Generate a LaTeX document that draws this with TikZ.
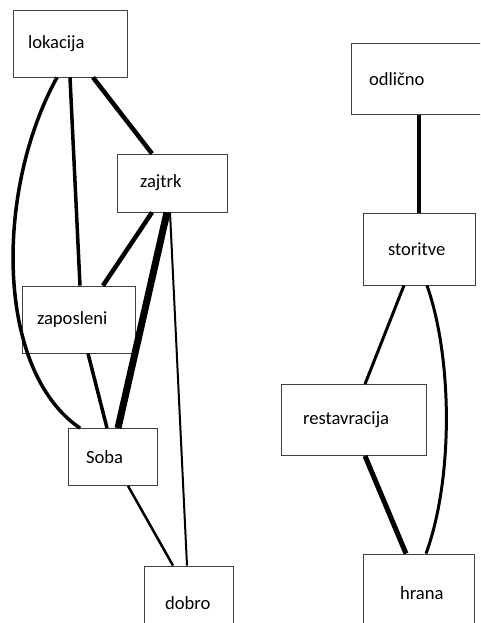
\documentclass[tikz,border=0pt]{standalone}
\usepackage{fontspec}
\setmainfont{Carlito}
\usepackage{tikz}
\usetikzlibrary{positioning,calc}

\begin{document}
\begin{tikzpicture}[
	x = 1pt, y = -1pt,
	box/.style = {draw = black!75, line width = 0.8pt, align = left, inner ysep = 0pt,
		font = \fontsize{18.6}{21}\selectfont},
	link/.style = {draw = black, line width = #1},
	]

	\clip (0,0) rectangle (480,623);

	% left group
	\node[box, minimum width=114pt, minimum height=67pt, inner xsep=15pt, text width=84pt] (lok) at (70,43.5) {lokacija};
	\node[box, minimum width=110pt, minimum height=58pt, inner xsep=23pt, text width=64pt] (zaj) at (172,183) {zajtrk};
	\node[box, minimum width=113pt, minimum height=67pt, inner xsep=15pt, text width=83pt] (zap) at (78.5,319.5) {zaposleni};
	\node[box, minimum width=89pt, minimum height=57pt, inner xsep=18pt, text width=53pt] (soba) at (112.5,457) {Soba};
	\node[box, minimum width=89pt, minimum height=74pt, inner xsep=21pt, text width=47pt] (dob) at (188.5,603) {dobro};

	\draw[link=4.5pt] ([xshift=23pt]lok.south) -- ([xshift=-20pt]zaj.north);
	\draw[link=3.5pt] (lok.south) -- ([xshift=1.5pt]zap.north);
	\draw[link=3.5pt] ([xshift=-13pt]lok.south) .. controls (-5,190) and (-5,370) .. ([xshift=-32.5pt]soba.north);
	\draw[link=4.5pt] ([xshift=-20pt]zaj.south) -- ([xshift=24.5pt]zap.north);
	\draw[link=7pt] ([xshift=-5pt]zaj.south) -- ([xshift=5.5pt]soba.north);
	\draw[link=2pt] ([xshift=-2pt]zaj.south) -- ([xshift=-1.5pt]dob.north);
	\draw[link=3.5pt] ([xshift=9.5pt]zap.south) -- ([xshift=-5.5pt]soba.north);
	\draw[link=2.5pt] ([xshift=15.5pt]soba.south) -- ([xshift=-15.5pt]dob.north);

	% right group
	\node[box, minimum width=136pt, minimum height=71pt, inner xsep=18pt, text width=100pt] (odl) at (419,79) {odlično};
	\node[box, minimum width=112pt, minimum height=72pt, inner xsep=25pt, text width=62pt] (sto) at (419,249) {storitve};
	\node[box, minimum width=145pt, minimum height=71pt, inner xsep=22pt, text width=101pt] (res) at (353.5,420) {restavracija};
	\node[box, minimum width=111pt, minimum height=78pt, inner xsep=37pt, text width=37pt] (hra) at (418.5,593) {hrana};

	\draw[link=3.5pt] (odl.south) -- (sto.north);
	\draw[link=3pt] ([xshift=-15pt]sto.south) -- ([xshift=11.5pt]res.north);
	\draw[link=3pt] ([xshift=8pt]sto.south) .. controls (453,360) and (453,480) .. ([xshift=7.5pt]hra.north);
	\draw[link=5pt] ([xshift=11.5pt]res.south) -- ([xshift=-12.5pt]hra.north);

\end{tikzpicture}
\end{document}
